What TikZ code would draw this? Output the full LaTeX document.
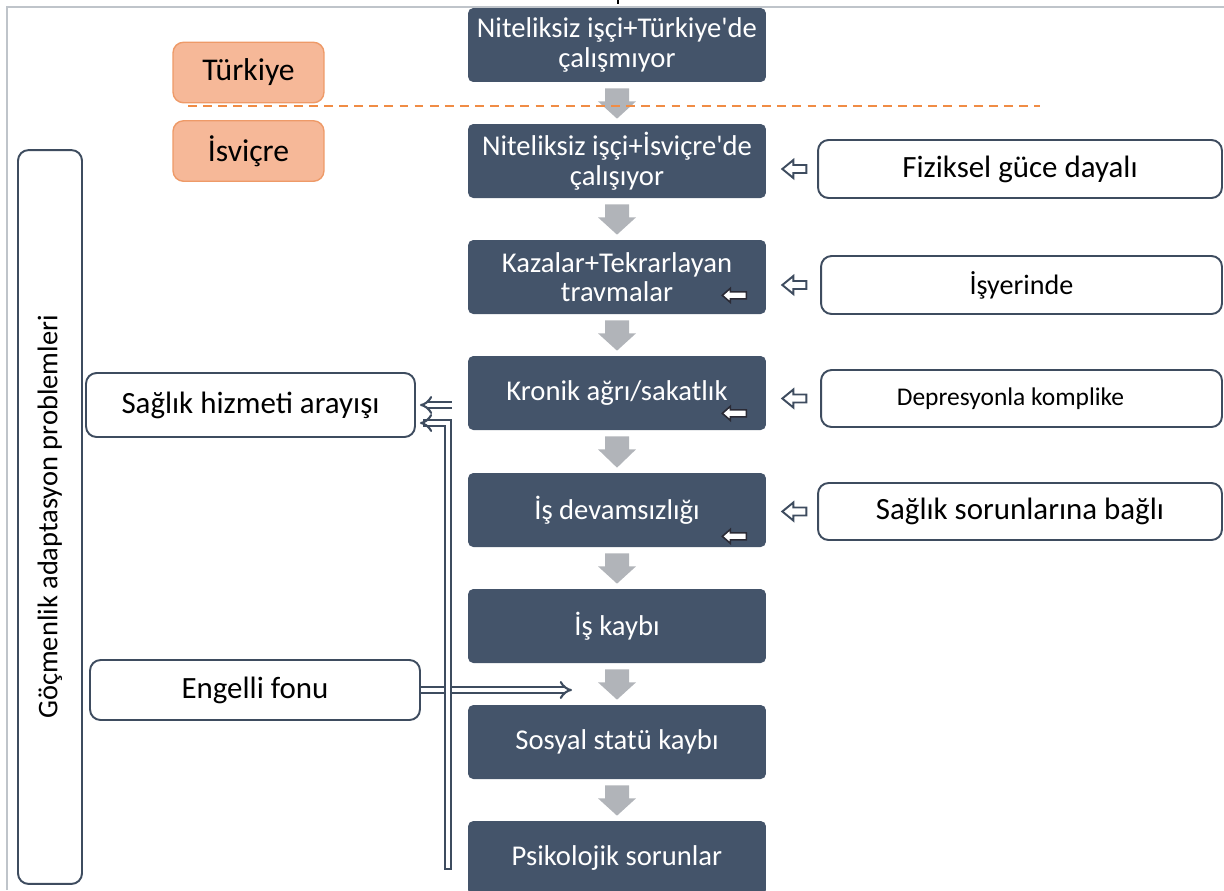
\documentclass[tikz,border=0pt]{standalone}
\usepackage{fontspec}
\setmainfont{Carlito}
\usetikzlibrary{calc,arrows.meta}
\definecolor{dbox}{HTML}{44546A}
\definecolor{edge}{HTML}{3E4C5F}
\definecolor{agray}{HTML}{B1B4B9}
\definecolor{ofill}{HTML}{F6B898}
\definecolor{oedge}{HTML}{EE9A68}
\definecolor{odash}{HTML}{F08C45}
\definecolor{framec}{HTML}{BFC4CA}
\definecolor{tipedge}{HTML}{2A2A35}
\newcommand\grayarr[2]{\fill[agray] ($(#1.south)+(-12,6)$) -- ++(24,0) -- ++(0,13) -- ++(7,0) -- ($(#2.north)+(0,-5)$) -- ($(#1.south)+(-19,19)$) -- ++(7,0) -- cycle;}
\newcommand\sideARR[1]{\draw[edge, fill=white, line width=1.1pt, line join=miter] #1 -- ++(11,-9) -- ++(0,5) -- ++(13,0) -- ++(0,8) -- ++(-13,0) -- ++(0,5) -- cycle;}
\newcommand\innerARR[1]{\draw[tipedge, fill=white, line width=0.9pt, line join=miter] #1 -- ++(8,-7) -- ++(0,3.5) -- ++(16,0) -- ++(0,7) -- ++(-16,0) -- ++(0,3.5) -- cycle;}
\begin{document}
\begin{tikzpicture}[x=0.02cm,y=-0.02cm,
 dark/.style={rectangle, rounded corners=3pt, fill=dbox, text=white, minimum width=5.96cm, minimum height=1.48cm, align=center, font=\fontsize{16.3}{16.8}\selectfont, inner sep=2pt},
 wbox/.style={rectangle, rounded corners=6pt, draw=edge, line width=1.1pt, fill=white, align=center, font=\fontsize{17.6}{20}\selectfont, inner sep=2pt},
 obox/.style={rectangle, rounded corners=6pt, draw=oedge, line width=0.8pt, fill=ofill, minimum width=3.02cm, minimum height=1.21cm, font=\fontsize{18}{20}\selectfont},
 hollow/.style={draw=edge, double=white, line width=1.2pt, double distance=2.2pt, -{Implies[scale=2.1]}}
]
\useasboundingbox (0,0) rectangle (1224,890);
\clip (0,0) rectangle (1224,890);
% frame
\draw[framec, line width=1.2pt] (7,890) -- (7,7) -- (1224,7);
\draw[black, line width=1.2pt] (618,0) -- (618,4);

% main chain
\node[dark] (b1) at (617,45) {Niteliksiz işçi+Türkiye\textquotesingle de\\çalışmıyor};
\node[dark] (b2) at (617,161) {Niteliksiz işçi+İsviçre\textquotesingle de\\çalışıyor};
\node[dark] (b3) at (617,277) {Kazalar+Tekrarlayan\\travmalar};
\node[dark] (b4) at (617,393) {Kronik ağrı/sakatlık};
\node[dark] (b5) at (617,510) {İş devamsızlığı};
\node[dark] (b6) at (617,626) {İş kaybı};
\node[dark] (b7) at (617,742) {Sosyal statü kaybı};
\node[dark] (b8) at (617,858) {Psikolojik sorunlar};

\grayarr{b1}{b2}
\grayarr{b2}{b3}
\grayarr{b3}{b4}
\grayarr{b4}{b5}
\grayarr{b5}{b6}
\grayarr{b6}{b7}
\grayarr{b7}{b8}

% country labels
\node[obox] (tr) at (248.5,72.5) {Türkiye};
\node[obox] (sv) at (248.5,151) {İsviçre};
\draw[odash, line width=1.1pt, dash pattern=on 5pt off 3.6pt] (188,106) -- (1040,106);

% right boxes
\node[wbox, minimum width=8.08cm, minimum height=1.16cm] (r1) at (1020,169) {Fiziksel güce dayalı};
\node[wbox, minimum width=8.02cm, minimum height=1.16cm, font=\fontsize{16}{18}\selectfont] (r2) at (1021.5,285) {İşyerinde};
\node[wbox, minimum width=8.02cm, minimum height=1.14cm, font=\fontsize{14.5}{17}\selectfont] (r3) at (1021.5,398.5) {\hspace*{-0.44cm}Depresyonla komplike};
\node[wbox, minimum width=8.08cm, minimum height=1.14cm] (r4) at (1020,511.5) {Sağlık sorunlarına bağlı};

\sideARR{($(b2.east |- r1.west)+(16,0)$)}
\sideARR{($(b3.east |- r2.west)+(16,0)$)}
\sideARR{($(b4.east |- r3.west)+(16,0)$)}
\sideARR{($(b5.east |- r4.west)+(16,0)$)}

\innerARR{($(b3.south east)+(-44,-19)$)}
\innerARR{($(b4.south east)+(-44,-17)$)}
\innerARR{($(b5.south east)+(-44,-11)$)}

% left boxes
\node[wbox, rotate=90, minimum width=14.68cm, minimum height=1.28cm, font=\fontsize{16.2}{18}\selectfont] (gp) at (50,517) {Göçmenlik adaptasyon problemleri};
\node[wbox, minimum width=6.58cm, minimum height=1.28cm] (sag) at (250.5,405) {Sağlık hizmeti arayışı};
\node[wbox, minimum width=6.6cm, minimum height=1.2cm] (eng) at (255,690) {Engelli fonu};

% hollow connectors
\coordinate (engend) at (572,690);
\coordinate (vb) at (448,866);
\draw[hollow] (eng.east) -- (engend);
\draw[hollow] ($(b4.west |- sag.east)+(-16,0)$) -- ($(sag.east)+(4,0)$);
\draw[hollow, line cap=rect] (vb) |- ($(sag.east)+(4,18)$);
\end{tikzpicture}
\end{document}
